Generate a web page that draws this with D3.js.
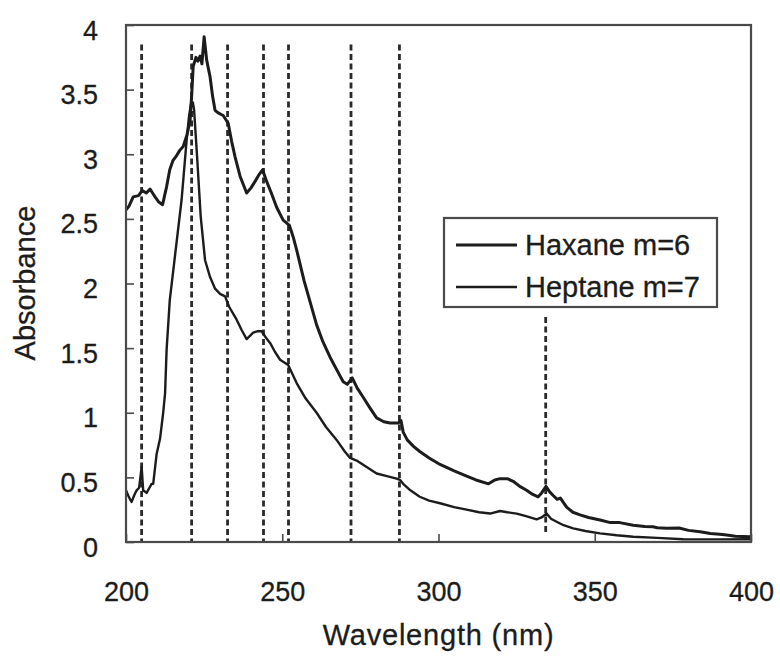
<!DOCTYPE html>
<html>
<head>
<meta charset="utf-8">
<script src="https://cdn.jsdelivr.net/npm/d3@7"></script>
<style>
  html, body { margin: 0; padding: 0; background: #fff; }
  svg { display: block; font-family: "Liberation Sans", Arial, sans-serif; }
</style>
</head>
<body>
<div id="root"></div>
<script>
// wavelength (nm) / absorbance
const hexaneWl = [200, 201, 202.3, 204, 205.2, 206.5, 207.7, 208.5, 209.3, 210.5, 211.7, 213, 214, 215, 216.2, 217.2, 218.3, 219.5, 220.5, 221, 221.5, 222.4, 223, 223.7, 224.3, 225, 225.5, 225.8, 226.9, 227.7, 228.5, 229.5, 231.1, 232.7, 233.8, 234.9, 236.5, 238.6, 240, 241.3, 242.5, 243.7, 245, 246.5, 248.2, 250.3, 252.3, 253.5, 254.6, 257, 259, 261, 263, 265.3, 267.5, 269.5, 270.8, 272.4, 274, 275.9, 278, 280.2, 282.5, 284.5, 287.1, 288, 288.7, 290, 292, 294, 297, 300.5, 305, 309, 312, 316, 318, 319.7, 322, 323.9, 326, 328.2, 330, 331.9, 333, 334.4, 335.5, 336.7, 338, 339, 341, 343, 345.3, 348, 351.7, 355, 358, 362.3, 366, 368.6, 370, 373, 377, 380, 383.7, 387, 390, 392.2, 395, 399.7];
const hexaneAbs = [2.57, 2.60, 2.67, 2.68, 2.72, 2.70, 2.73, 2.70, 2.67, 2.63, 2.61, 2.75, 2.88, 2.95, 2.99, 3.03, 3.06, 3.15, 3.26, 3.45, 3.68, 3.75, 3.72, 3.76, 3.70, 3.91, 3.80, 3.73, 3.60, 3.45, 3.34, 3.32, 3.30, 3.24, 3.10, 2.98, 2.83, 2.70, 2.74, 2.79, 2.84, 2.88, 2.79, 2.70, 2.59, 2.49, 2.45, 2.36, 2.26, 2.02, 1.85, 1.68, 1.55, 1.43, 1.33, 1.24, 1.22, 1.27, 1.19, 1.12, 1.04, 0.96, 0.93, 0.92, 0.92, 0.94, 0.85, 0.79, 0.74, 0.70, 0.65, 0.60, 0.55, 0.51, 0.48, 0.45, 0.48, 0.49, 0.49, 0.47, 0.43, 0.40, 0.37, 0.35, 0.38, 0.43, 0.39, 0.36, 0.33, 0.34, 0.27, 0.23, 0.21, 0.19, 0.17, 0.15, 0.15, 0.13, 0.12, 0.118, 0.11, 0.106, 0.108, 0.09, 0.08, 0.065, 0.06, 0.054, 0.045, 0.041];

const heptaneWl = [200, 200.7, 201.3, 201.8, 202.6, 203.4, 204.2, 205, 205.5, 206.6, 207.5, 208.2, 208.7, 209.8, 210.9, 211.9, 212.5, 213, 214, 215.9, 217.8, 219.4, 220.2, 220.8, 221.4, 221.8, 222.8, 223.9, 225.3, 226.9, 228.5, 230.1, 231.7, 233, 235.4, 237, 238.6, 240.7, 242, 243.4, 244.8, 246.1, 247.7, 249.3, 251.9, 254.6, 257.5, 261, 264, 267.4, 270, 271.7, 273.8, 277, 280.2, 283.5, 286.6, 287.7, 288.7, 291, 294, 297, 300.5, 305, 309, 313, 316.5, 319.7, 322, 325, 328, 331.4, 333, 334.6, 336, 337.8, 340, 343.1, 347, 351.7, 357, 362.3, 370, 378.3, 390, 399.7];
const heptaneAbs = [0.40, 0.36, 0.33, 0.31, 0.36, 0.40, 0.42, 0.58, 0.40, 0.38, 0.42, 0.45, 0.45, 0.68, 0.80, 1.00, 1.15, 1.49, 1.87, 2.26, 2.65, 3.11, 3.30, 3.39, 3.40, 3.34, 2.96, 2.52, 2.18, 2.05, 1.96, 1.92, 1.90, 1.82, 1.72, 1.64, 1.57, 1.62, 1.63, 1.63, 1.58, 1.54, 1.47, 1.41, 1.37, 1.23, 1.11, 1.00, 0.89, 0.79, 0.70, 0.65, 0.63, 0.58, 0.53, 0.51, 0.49, 0.48, 0.45, 0.40, 0.35, 0.32, 0.30, 0.27, 0.25, 0.23, 0.22, 0.24, 0.23, 0.22, 0.20, 0.175, 0.19, 0.22, 0.18, 0.157, 0.13, 0.106, 0.085, 0.067, 0.052, 0.041, 0.032, 0.021, 0.02, 0.021];

// dashed marker lines (nm)
const markerWl = [205, 221, 232.5, 244, 252, 272, 287.5];
const markerWlLow = [334.3];

const seriesNames = ['Haxane m=6', 'Heptane m=7'];
const xTicks = [200, 250, 300, 350, 400];
const yTicks = [0, 0.5, 1, 1.5, 2, 2.5, 3, 3.5, 4];

const W = 780, H = 656;
const m = {top: 25, right: 29, bottom: 114, left: 126};
const iw = W - m.left - m.right, ih = H - m.top - m.bottom;
const ink = '#1c1c1c';

const svg = d3.select('#root').append('svg')
  .attr('width', W).attr('height', H);
const g = svg.append('g').attr('transform', `translate(${m.left},${m.top})`);

const x = d3.scaleLinear().domain([200, 400]).range([0, iw]);
const y = d3.scaleLinear().domain([0, 4]).range([ih, 0]);

// dashed lines
g.selectAll('line.mark').data(markerWl).enter().append('line')
  .attr('class', 'mark')
  .attr('x1', d => x(d)).attr('x2', d => x(d))
  .attr('y1', y(3.85)).attr('y2', y(0))
  .attr('stroke', '#2a2a2a').attr('stroke-width', 2.8)
  .attr('stroke-dasharray', '6,3.5');
g.selectAll('line.markLow').data(markerWlLow).enter().append('line')
  .attr('class', 'markLow')
  .attr('x1', d => x(d)).attr('x2', d => x(d))
  .attr('y1', y(1.74)).attr('y2', y(0.05))
  .attr('stroke', '#2a2a2a').attr('stroke-width', 2.8)
  .attr('stroke-dasharray', '6,3.5');

const line = d3.line().x(d => x(d[0])).y(d => y(d[1]));
const hexane = d3.zip(hexaneWl, hexaneAbs);
const heptane = d3.zip(heptaneWl, heptaneAbs);

g.append('path').datum(heptane)
  .attr('d', line).attr('fill', 'none')
  .attr('stroke', ink).attr('stroke-width', 2.4)
  .attr('stroke-linejoin', 'round');
g.append('path').datum(hexane)
  .attr('d', line).attr('fill', 'none')
  .attr('stroke', ink).attr('stroke-width', 3)
  .attr('stroke-linejoin', 'round');

// frame
g.append('rect').attr('width', iw).attr('height', ih)
  .attr('fill', 'none').attr('stroke', '#4a4a4a').attr('stroke-width', 2.2);

// axes
const yAxis = g.append('g')
  .call(d3.axisLeft(y).tickValues(yTicks).tickSize(-8).tickPadding(28)
    .tickFormat(d3.format('')));
const xAxis = g.append('g').attr('transform', `translate(0,${ih})`)
  .call(d3.axisBottom(x).tickValues(xTicks).tickSize(-8).tickPadding(40));
[xAxis, yAxis].forEach(a => {
  a.select('.domain').remove();
  a.selectAll('line').attr('stroke', '#4a4a4a').attr('stroke-width', 1.6);
  a.selectAll('text').attr('fill', ink).attr('font-size', 27)
    .attr('font-family', '"Liberation Sans", Arial, sans-serif')
    .attr('stroke', ink).attr('stroke-width', 0.3);
});
yAxis.selectAll('text').attr('dy', '0.52em');

// axis titles
svg.append('text')
  .attr('x', m.left + iw / 2).attr('y', 645)
  .attr('text-anchor', 'middle').attr('font-size', 29).attr('fill', ink)
  .attr('stroke', ink).attr('stroke-width', 0.3)
  .attr('letter-spacing', 0.8)
  .text('Wavelength (nm)');
svg.append('text')
  .attr('transform', 'translate(35,283) rotate(-90)')
  .attr('text-anchor', 'middle').attr('font-size', 29).attr('fill', ink)
  .attr('stroke', ink).attr('stroke-width', 0.3)
  .text('Absorbance');

// legend
const lg = svg.append('g').attr('transform', 'translate(444,218)');
lg.append('rect').attr('width', 273).attr('height', 89)
  .attr('fill', '#fff').attr('stroke', '#4a4a4a').attr('stroke-width', 2.2);
const rows = lg.selectAll('g.row').data(seriesNames).enter().append('g')
  .attr('class', 'row')
  .attr('transform', (d, i) => `translate(0,${27 + i * 42})`);
rows.append('line')
  .attr('x1', 12).attr('x2', 73)
  .attr('stroke', ink).attr('stroke-width', (d, i) => i === 0 ? 3 : 2.4);
rows.append('text')
  .attr('x', 81).attr('dy', '0.36em')
  .attr('font-size', 29).attr('fill', ink)
  .attr('stroke', ink).attr('stroke-width', 0.3)
  .text(d => d);
</script>
</body>
</html>
